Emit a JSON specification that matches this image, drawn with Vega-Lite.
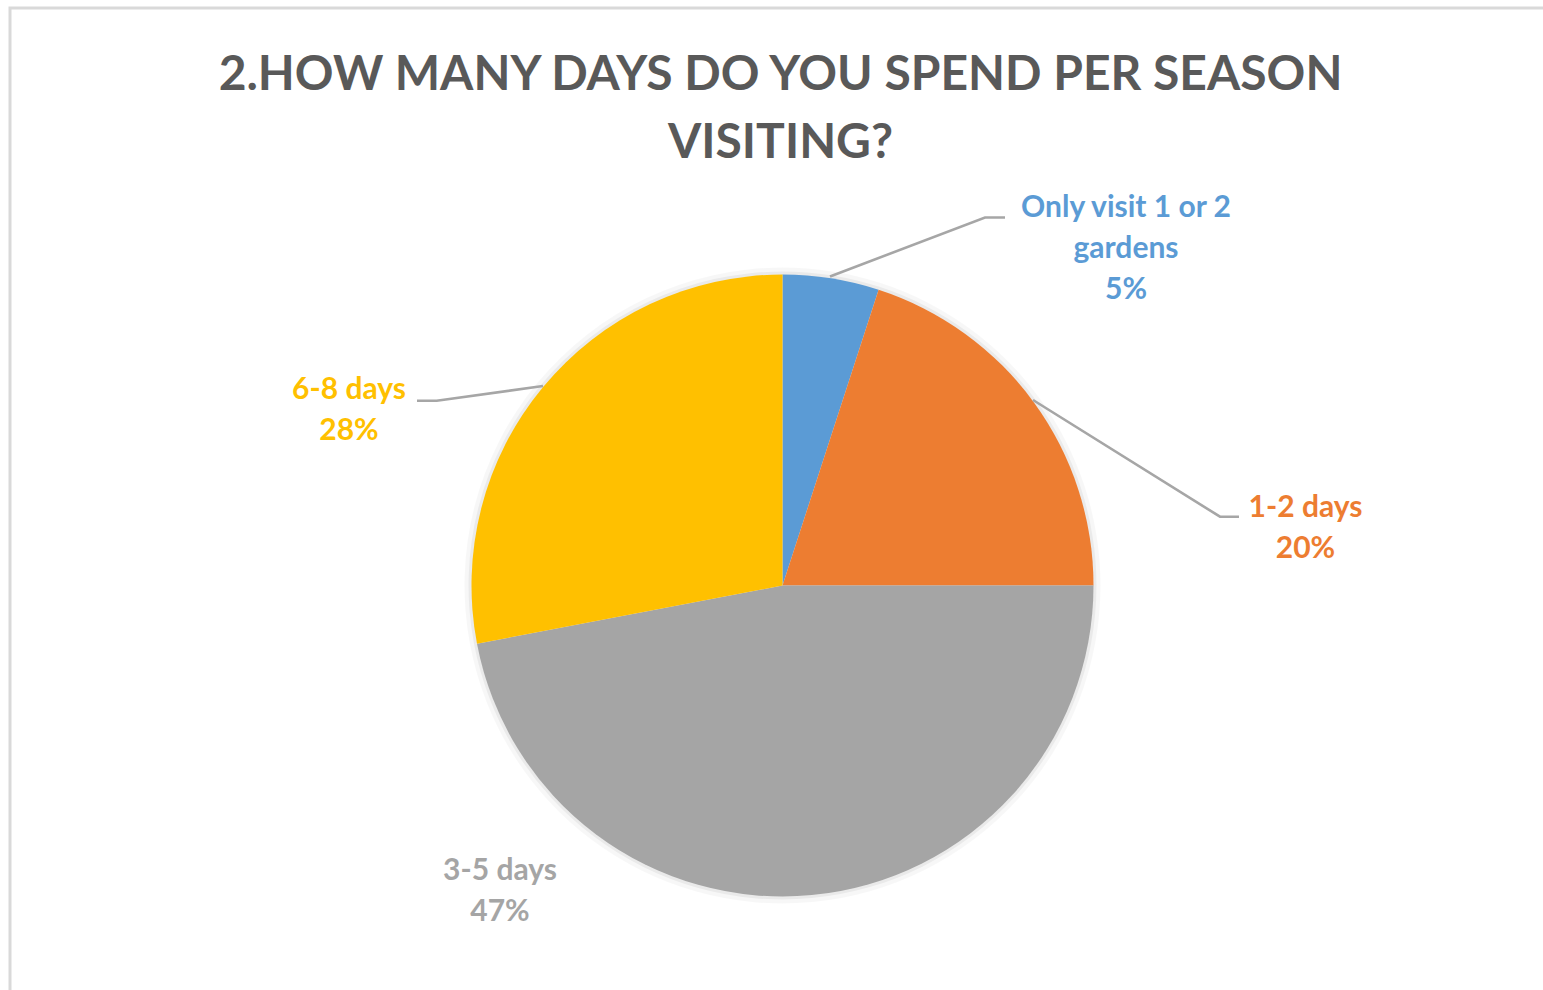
{
  "$schema": "https://vega.github.io/schema/vega-lite/v6.json",
  "width": 1537,
  "height": 986,
  "autosize": {"type": "none"},
  "padding": {"left": 10, "top": 8, "right": -4, "bottom": -4},
  "background": "#FFFFFF",
  "config": {"view": {"stroke": "#D9D9D9", "strokeWidth": 3}},
  "title": {
    "text": ["2.HOW MANY DAYS DO YOU SPEND PER SEASON", "VISITING?"],
    "font": "Lato",
    "fontSize": 48,
    "fontWeight": "bold",
    "color": "#595959",
    "lineHeight": 68,
    "anchor": "middle",
    "offset": -160,
    "dx": 2
  },
  "datasets": {
    "slices": [
      {"category": "Only visit 1 or 2 gardens", "value": 5, "order": 1},
      {"category": "1-2 days", "value": 20, "order": 2},
      {"category": "3-5 days", "value": 47, "order": 3},
      {"category": "6-8 days", "value": 28, "order": 4}
    ],
    "labels": [
      {"category": "Only visit 1 or 2 gardens", "text": "Only visit 1 or 2\ngardens\n5%", "lx": 343.5, "ly": 368.5},
      {"category": "1-2 days", "text": "1-2 days\n20%", "lx": 523, "ly": 68.5},
      {"category": "3-5 days", "text": "3-5 days\n47%", "lx": -282.5, "ly": -294.5},
      {"category": "6-8 days", "text": "6-8 days\n28%", "lx": -433.5, "ly": 186.5}
    ],
    "leaders": [
      {"category": "Only visit 1 or 2 gardens", "pt": 1, "lx": 47.5, "ly": 309},
      {"category": "Only visit 1 or 2 gardens", "pt": 2, "lx": 202.5, "ly": 368},
      {"category": "Only visit 1 or 2 gardens", "pt": 3, "lx": 222.5, "ly": 368},
      {"category": "1-2 days", "pt": 1, "lx": 250.5, "ly": 185.5},
      {"category": "1-2 days", "pt": 2, "lx": 437.5, "ly": 68.8},
      {"category": "1-2 days", "pt": 3, "lx": 456.5, "ly": 68.8},
      {"category": "6-8 days", "pt": 1, "lx": -239.5, "ly": 199.5},
      {"category": "6-8 days", "pt": 2, "lx": -345.8, "ly": 184.8},
      {"category": "6-8 days", "pt": 3, "lx": -365.5, "ly": 184.8}
    ]
  },
  "layer": [
    {
      "data": {"name": "slices"},
      "mark": {"type": "arc", "outerRadius": 318, "color": "#000000", "opacity": 0.03},
      "encoding": {
        "theta": {"field": "value", "type": "quantitative", "stack": true},
        "order": {"field": "order", "type": "quantitative"},
        "x": {"datum": 0, "type": "quantitative", "scale": {"domain": [-772.5, 764.5], "nice": false, "zero": false}, "axis": null},
        "y": {"datum": 0, "type": "quantitative", "scale": {"domain": [-408.5, 577.5], "nice": false, "zero": false}, "axis": null}
      }
    },
    {
      "data": {"name": "slices"},
      "mark": {"type": "arc", "outerRadius": 314, "color": "#000000", "opacity": 0.05},
      "encoding": {
        "theta": {"field": "value", "type": "quantitative", "stack": true},
        "order": {"field": "order", "type": "quantitative"},
        "x": {"datum": 0, "type": "quantitative", "axis": null},
        "y": {"datum": 0, "type": "quantitative", "axis": null}
      }
    },
    {
      "data": {"name": "slices"},
      "mark": {"type": "arc", "outerRadius": 311},
      "encoding": {
        "theta": {"field": "value", "type": "quantitative", "stack": true},
        "order": {"field": "order", "type": "quantitative"},
        "color": {
          "field": "category",
          "type": "nominal",
          "scale": {
            "domain": ["Only visit 1 or 2 gardens", "1-2 days", "3-5 days", "6-8 days"],
            "range": ["#5B9BD5", "#ED7D31", "#A5A5A5", "#FFC000"]
          },
          "legend": null
        },
        "x": {"datum": 0, "type": "quantitative", "axis": null},
        "y": {"datum": 0, "type": "quantitative", "axis": null}
      }
    },
    {
      "data": {"name": "leaders"},
      "mark": {"type": "line", "color": "#A6A6A6", "strokeWidth": 2.6},
      "encoding": {
        "x": {"field": "lx", "type": "quantitative", "axis": null},
        "y": {"field": "ly", "type": "quantitative", "axis": null},
        "detail": {"field": "category", "type": "nominal"},
        "order": {"field": "pt", "type": "quantitative"}
      }
    },
    {
      "data": {"name": "labels"},
      "mark": {
        "type": "text",
        "font": "Lato",
        "fontSize": 30,
        "fontWeight": "bold",
        "align": "center",
        "baseline": "alphabetic",
        "lineHeight": 41,
        "lineBreak": "\n"
      },
      "encoding": {
        "x": {"field": "lx", "type": "quantitative", "axis": null},
        "y": {"field": "ly", "type": "quantitative", "axis": null},
        "text": {"field": "text", "type": "nominal"},
        "color": {"field": "category", "type": "nominal", "legend": null}
      }
    }
  ]
}
